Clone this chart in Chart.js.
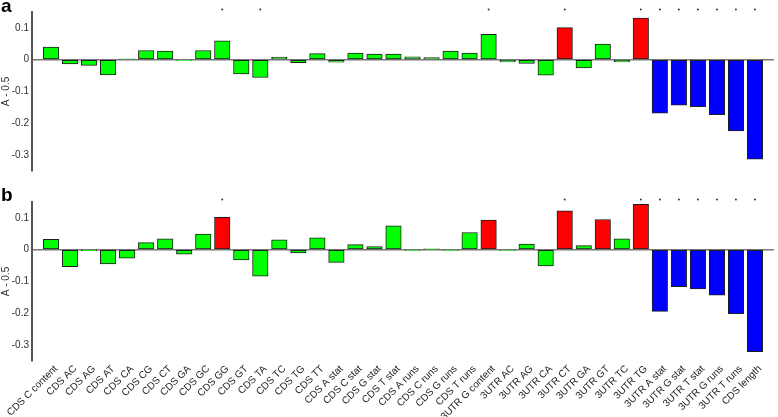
<!DOCTYPE html>
<html>
<head>
<meta charset="utf-8">
<script src="https://cdn.jsdelivr.net/npm/chart.js@4.4.1/dist/chart.umd.min.js"></script>
<style>
html,body{margin:0;padding:0;background:#fff;}
#wrap{position:relative;width:778px;height:417px;overflow:hidden;font-family:"Liberation Sans",Arial,sans-serif;}
.panel{position:absolute;left:0;width:778px;}
#pa{top:0;height:180px;}
#pb{top:186px;height:231px;}
.lbl{position:absolute;left:1px;font-weight:bold;font-size:19px;line-height:19px;color:#000;}
</style>
</head>
<body>
<div id="wrap">
  <div class="panel" id="pa"><canvas id="chartA"></canvas></div>
  <div class="panel" id="pb"><canvas id="chartB"></canvas></div>
  <div class="lbl" style="top:-4px">a</div>
  <div class="lbl" style="top:185px">b</div>
</div>
<script>
// Feature effects, two panels (a, b), value shown as A - 0.5
const categories = [
  "CDS C content","CDS AC","CDS AG","CDS AT","CDS CA","CDS CG","CDS CT","CDS GA","CDS GC","CDS GG",
  "CDS GT","CDS TA","CDS TC","CDS TG","CDS TT","CDS A stat","CDS C stat","CDS G stat","CDS T stat",
  "CDS A runs","CDS C runs","CDS G runs","CDS T runs","3UTR G content","3UTR AC","3UTR AG","3UTR CA",
  "3UTR CT","3UTR GA","3UTR GT","3UTR TC","3UTR TG","3UTR A stat","3UTR G stat","3UTR T stat",
  "3UTR G runs","3UTR T runs","CDS length"
];

const valuesA = [
  0.040,-0.013,-0.018,-0.048,0.003,0.029,0.027,-0.002,0.029,0.059,
  -0.045,-0.056,0.008,-0.009,0.019,-0.008,0.021,0.018,0.018,
  0.009,0.007,0.027,0.021,0.080,-0.007,-0.012,-0.049,
  0.101,-0.026,0.049,-0.007,0.131,-0.168,-0.143,-0.148,
  -0.173,-0.224,-0.313
];

const valuesB = [
  0.033,-0.053,-0.003,-0.045,-0.027,0.022,0.034,-0.014,0.049,0.102,
  -0.032,-0.083,0.031,-0.010,0.037,-0.040,0.016,0.010,0.075,
  -0.002,0.001,-0.002,0.054,0.093,-0.002,0.018,-0.051,
  0.122,0.013,0.095,0.034,0.143,-0.194,-0.116,-0.123,
  -0.143,-0.201,-0.321
];

// 1-based positions of highlighted bars and of significance marks
const redA = [28, 32];
const redB = [10, 24, 28, 30, 32];
const blueA = [33, 34, 35, 36, 37, 38];
const blueB = [33, 34, 35, 36, 37, 38];
const starsA = [10, 12, 24, 28, 32, 33, 34, 35, 36, 37, 38];
const starsB = [10, 28, 32, 33, 34, 35, 36, 37, 38];

const yTicks = [-0.3, -0.2, -0.1, 0, 0.1];
const yMin = -0.35, yMax = 0.15, starLevel = 0.158;

const FONT = "'Liberation Sans', Arial, sans-serif";
Chart.defaults.font.family = FONT;

function barColor(red, blue){
  return categories.map((_, i) => red.includes(i+1) ? "#ff0000" : blue.includes(i+1) ? "#0000ff" : "#00ff00");
}

function makeChart(id, values, red, blue, stars, showX){
  const xTickVals = [];
  for (let i = 0; i <= categories.length + 1; i++) xTickVals.push(i);
  return new Chart(document.getElementById(id), {
    type: "bar",
    data: {
      datasets: [
        {
          data: values.map((v, i) => ({x: i+1, y: v})),
          backgroundColor: barColor(red, blue),
          borderColor: "#1e1e1e",
          borderWidth: 1,
          borderSkipped: false,
          barThickness: 15.5
        },
        {
          type: "scatter",
          data: stars.map(n => ({x: n, y: starLevel})),
          pointRadius: 1,
          pointBackgroundColor: "#333",
          pointBorderWidth: 0,
          clip: false
        }
      ]
    },
    options: {
      responsive: true,
      maintainAspectRatio: false,
      animation: false,
      events: [],
      layout: { padding: showX ? {top:16, bottom:0, left:0, right:1} : {top:12, bottom:9, left:0, right:1} },
      plugins: { legend: {display:false}, tooltip: {enabled:false} },
      scales: {
        x: {
          type: "linear",
          min: 0, max: categories.length + 1,
          offset: false,
          display: showX,
          afterBuildTicks: s => { s.ticks = xTickVals.map(v => ({value: v})); },
          afterFit: s => { if (showX) s.height = 56; },
          grid: { display:false, drawTicks:false },
          border: { display:false },
          ticks: {
            autoSkip: false,
            minRotation: 45, maxRotation: 45,
            padding: 2,
            labelOffset: 5,
            color: "#222",
            font: { size: 10 },
            callback: v => categories[v-1] ?? null
          }
        },
        y: {
          min: yMin, max: yMax,
          afterBuildTicks: s => { s.ticks = yTicks.map(v => ({value: v})); },
          afterFit: s => { s.width = 32; },
          grid: {
            drawTicks: false,
            lineWidth: 1.5,
            color: c => (c.tick && c.tick.value === 0) ? "#777" : "rgba(0,0,0,0)"
          },
          border: { display:true, color:"#555", width:2 },
          ticks: {
            padding: 3,
            color: "#333",
            font: { size: 10 },
            callback: v => v === 0 ? "0" : v.toFixed(1)
          },
          title: { display:true, text:"A - 0.5", color:"#333", font:{size:10}, padding:{top:0, bottom:0} }
        }
      }
    }
  });
}

makeChart("chartA", valuesA, redA, blueA, starsA, false);
makeChart("chartB", valuesB, redB, blueB, starsB, true);
</script>
</body>
</html>
